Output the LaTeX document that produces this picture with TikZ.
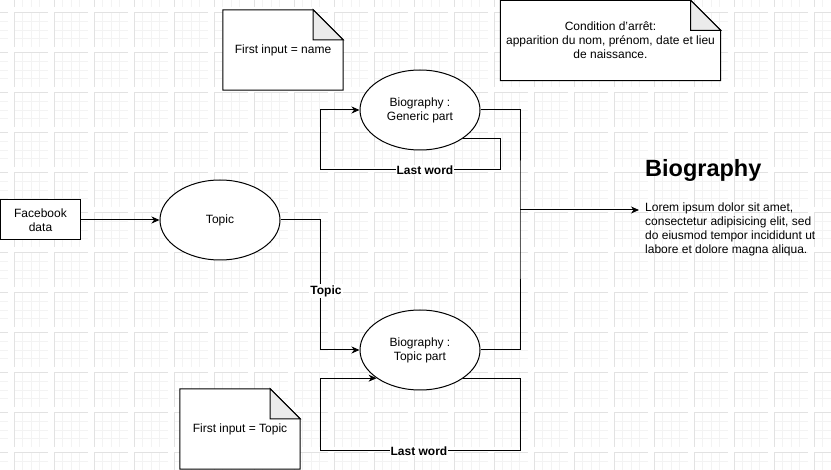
\documentclass[tikz,border=0pt]{standalone}
\usepackage{fontspec}
\setmainfont{Liberation Sans}
\usetikzlibrary{arrows.meta,shapes.geometric}
\pgfdeclarelayer{gridlayer}
\pgfdeclarelayer{backlayer}
\pgfsetlayers{gridlayer,backlayer,main}

\definecolor{gridmajor}{HTML}{E2E2E2}
\definecolor{gridminor}{HTML}{F3F3F3}
\definecolor{foldgray}{HTML}{EBEBEB}

\tikzset{
  txt/.style={font=\fontsize{12}{14}\selectfont, align=center, text=black},
  proc/.style={txt, ellipse, draw=black, fill=white, line width=1pt,
    minimum width=120pt, minimum height=80pt, inner sep=0pt},
  srcbox/.style={txt, rectangle, draw=black, fill=white, line width=1pt,
    minimum width=80pt, minimum height=40pt, inner sep=0pt},
  notebox/.style={txt, rectangle, inner sep=0pt},
  noteline/.style={draw=black, fill=white, line width=1pt, line join=miter},
  foldline/.style={draw=black, fill=foldgray, line width=1pt},
  flow/.style={draw=black, line width=1pt, -{Stealth[length=8pt,width=7pt,inset=2.5pt]}},
  plain/.style={draw=black, line width=1pt},
  lbl/.style={font=\bfseries\fontsize{12}{14}\selectfont, text=black, fill=white, inner sep=1pt},
}

% folded-corner outline behind a note node
\newcommand{\dogearnote}[1]{%
  \begin{pgfonlayer}{backlayer}
    \draw[noteline] (#1.north west) -- ([xshift=-30pt]#1.north east)
      -- ([yshift=-30pt]#1.north east) -- (#1.south east) -- (#1.south west) -- cycle;
    \draw[foldline] ([xshift=-30pt]#1.north east) -- ([xshift=-30pt,yshift=-30pt]#1.north east)
      -- ([yshift=-30pt]#1.north east) -- cycle;
  \end{pgfonlayer}}

\begin{document}
\begin{tikzpicture}[x=1pt,y=-1pt]
\useasboundingbox (0,0) rectangle (831,470);

% background grid
\begin{pgfonlayer}{gridlayer}
\begin{scope}
\clip (0,0) rectangle (831,470);
\fill[white] (0,0) rectangle (831,470);
\foreach \i in {-1,...,20}{
  \foreach \j in {-1,...,11}{
    \pgfmathsetmacro\xa{14+40*\i}
    \pgfmathsetmacro\ya{13+40*\j}
    \foreach \k in {8.5,17,25.5}{
      \draw[gridminor, line width=0.8pt] (\xa+\k,\ya) -- (\xa+\k,\ya+34);
      \draw[gridminor, line width=0.8pt] (\xa,\ya+\k) -- (\xa+34,\ya+\k);
    }
    \draw[gridmajor, line width=1pt] (\xa,\ya+34) -- (\xa,\ya) -- (\xa+34,\ya);
  }
}
\end{scope}
\end{pgfonlayer}

% process nodes
\node[srcbox] (fb) at (40.5,220) {Facebook\\data};
\node[proc] (topic) at (220,220) {Topic};
\node[proc] (gen) at (420,110) {Biography :\\Generic part};
\node[proc] (tpp) at (420,350) {Biography :\\Topic part};

% notes
\node[notebox, minimum width=120pt, minimum height=80pt] (noteA) at (283,50) {First input = name};
\node[notebox, minimum width=120pt, minimum height=80pt] (noteB) at (240,429) {First input = Topic};
\node[notebox, minimum width=220pt, minimum height=80pt] (noteC) at (610.5,40.5)
  {Condition d’arrêt:\\apparition du nom, prénom, date et lieu\\de naissance.};
\dogearnote{noteA}
\dogearnote{noteB}
\dogearnote{noteC}

% helper points
\coordinate (join) at (520,210);
\coordinate (out) at (639,210);
\coordinate (ga) at (500,170);
\coordinate (gb) at (320,170);
\coordinate (ta) at (520,451);
\coordinate (tb) at (320,451);

% connectors
\draw[flow] (fb.east) -- (topic.west);
\draw[flow] (topic.east) -- ++(40,0) |- (tpp.west);
\node[lbl] (toplbl) at (326,291) {Topic};

\draw[plain] (gen.east) -| (join) |- (tpp.east);
\draw[flow] (join) -- (out);

\draw[flow] (gen.-34) -| (ga) -- (gb) |- (gen.west);
\node[lbl] (lwA) at (425,170) {Last word};

\draw[flow] (tpp.-33) -| (ta) -- (tb) |- (tpp.-147);
\node[lbl] (lwB) at (419,451) {Last word};

% output text block
\node[anchor=base west, inner sep=0pt, font=\bfseries\fontsize{23.5}{28}\selectfont] (bioh)
  at (645,177) {Biography};
\node[anchor=north west, inner sep=0pt, align=left, font=\fontsize{12}{13.8}\selectfont] (biot)
  at (645,203) {Lorem ipsum dolor sit amet,\\consectetur adipisicing elit, sed\\do eiusmod tempor incididunt ut\\labore et dolore magna aliqua.};
\end{tikzpicture}
\end{document}
